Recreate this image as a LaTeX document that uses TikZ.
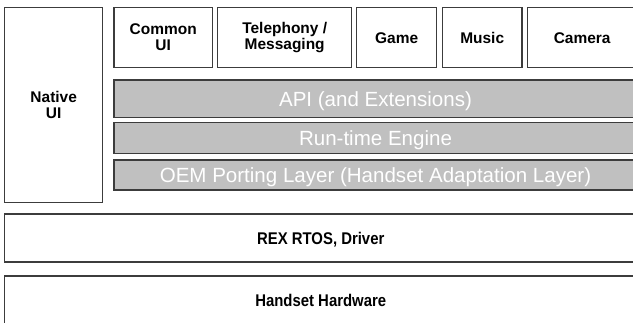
\documentclass[tikz,border=0pt]{standalone}
\usepackage{fontspec}
\setmainfont{Liberation Sans}
\newfontfamily\narrowfont[FakeStretch=0.88]{Liberation Sans}
\usepackage{tikz}

\definecolor{edge}{HTML}{3C3C3C}
\definecolor{layer}{HTML}{C0C0C0}

\tikzset{
    app/.style={draw=edge, line width=1pt, fill=white, inner sep=0pt, align=center,
        minimum height=45.3pt, font=\fontsize{11.6}{11.8}\selectfont\bfseries},
    oneline/.style={text height=8.4pt, text depth=0pt},
    layerbar/.style={draw=edge, line width=1pt, fill=layer, inner sep=0pt,
        minimum width=392.25pt, text=white, text height=11pt, text depth=0pt,
        font=\fontsize{15.4}{16}\selectfont},
    base/.style={draw=edge, line width=1pt, fill=white, inner sep=0pt,
        minimum width=474.4pt, minimum height=36pt, text height=9.2pt, text depth=0pt,
        font=\narrowfont\fontsize{12.7}{13}\selectfont\bfseries}
}

\begin{document}
\begin{tikzpicture}[x=0.75pt, y=-0.75pt]
    \useasboundingbox (0,0) rectangle (633,323);
    \clip (0,0) rectangle (633,323);

    % Native UI column on the left
    \node[app, minimum width=73.5pt, minimum height=146.5pt] (native) at (53.7,105) {Native\\UI};

    % Applications along the top
    \node[app, minimum width=73.7pt] (common) at (163.2,37.5) {Common\\UI};
    \node[app, minimum width=100.5pt] (tele) at (284.7,37.5) {Telephony /\\Messaging};
    \node[app, oneline, minimum width=60pt] (game) at (396.7,37.5) {Game};
    \node[app, oneline, minimum width=59.8pt] (music) at (482.2,37.5) {Music};
    \node[app, oneline, minimum width=82.5pt] (camera) at (582.2,37.5) {Camera};

    % Platform layers (grey)
    \node[layerbar, minimum height=28pt] (api) at (375.5,98.7) {API (and Extensions)};
    \node[layerbar, minimum height=23pt] (engine) at (375.5,138) {Run-time Engine};
    \node[layerbar, minimum height=22.5pt] (oem) at (375.5,175) {OEM Porting Layer (Handset Adaptation Layer)};

    % OS and hardware
    \node[base] (rtos) at (320.75,238) {REX RTOS, Driver};
    \node[base] (hw) at (320.75,300) {Handset Hardware};
\end{tikzpicture}
\end{document}
